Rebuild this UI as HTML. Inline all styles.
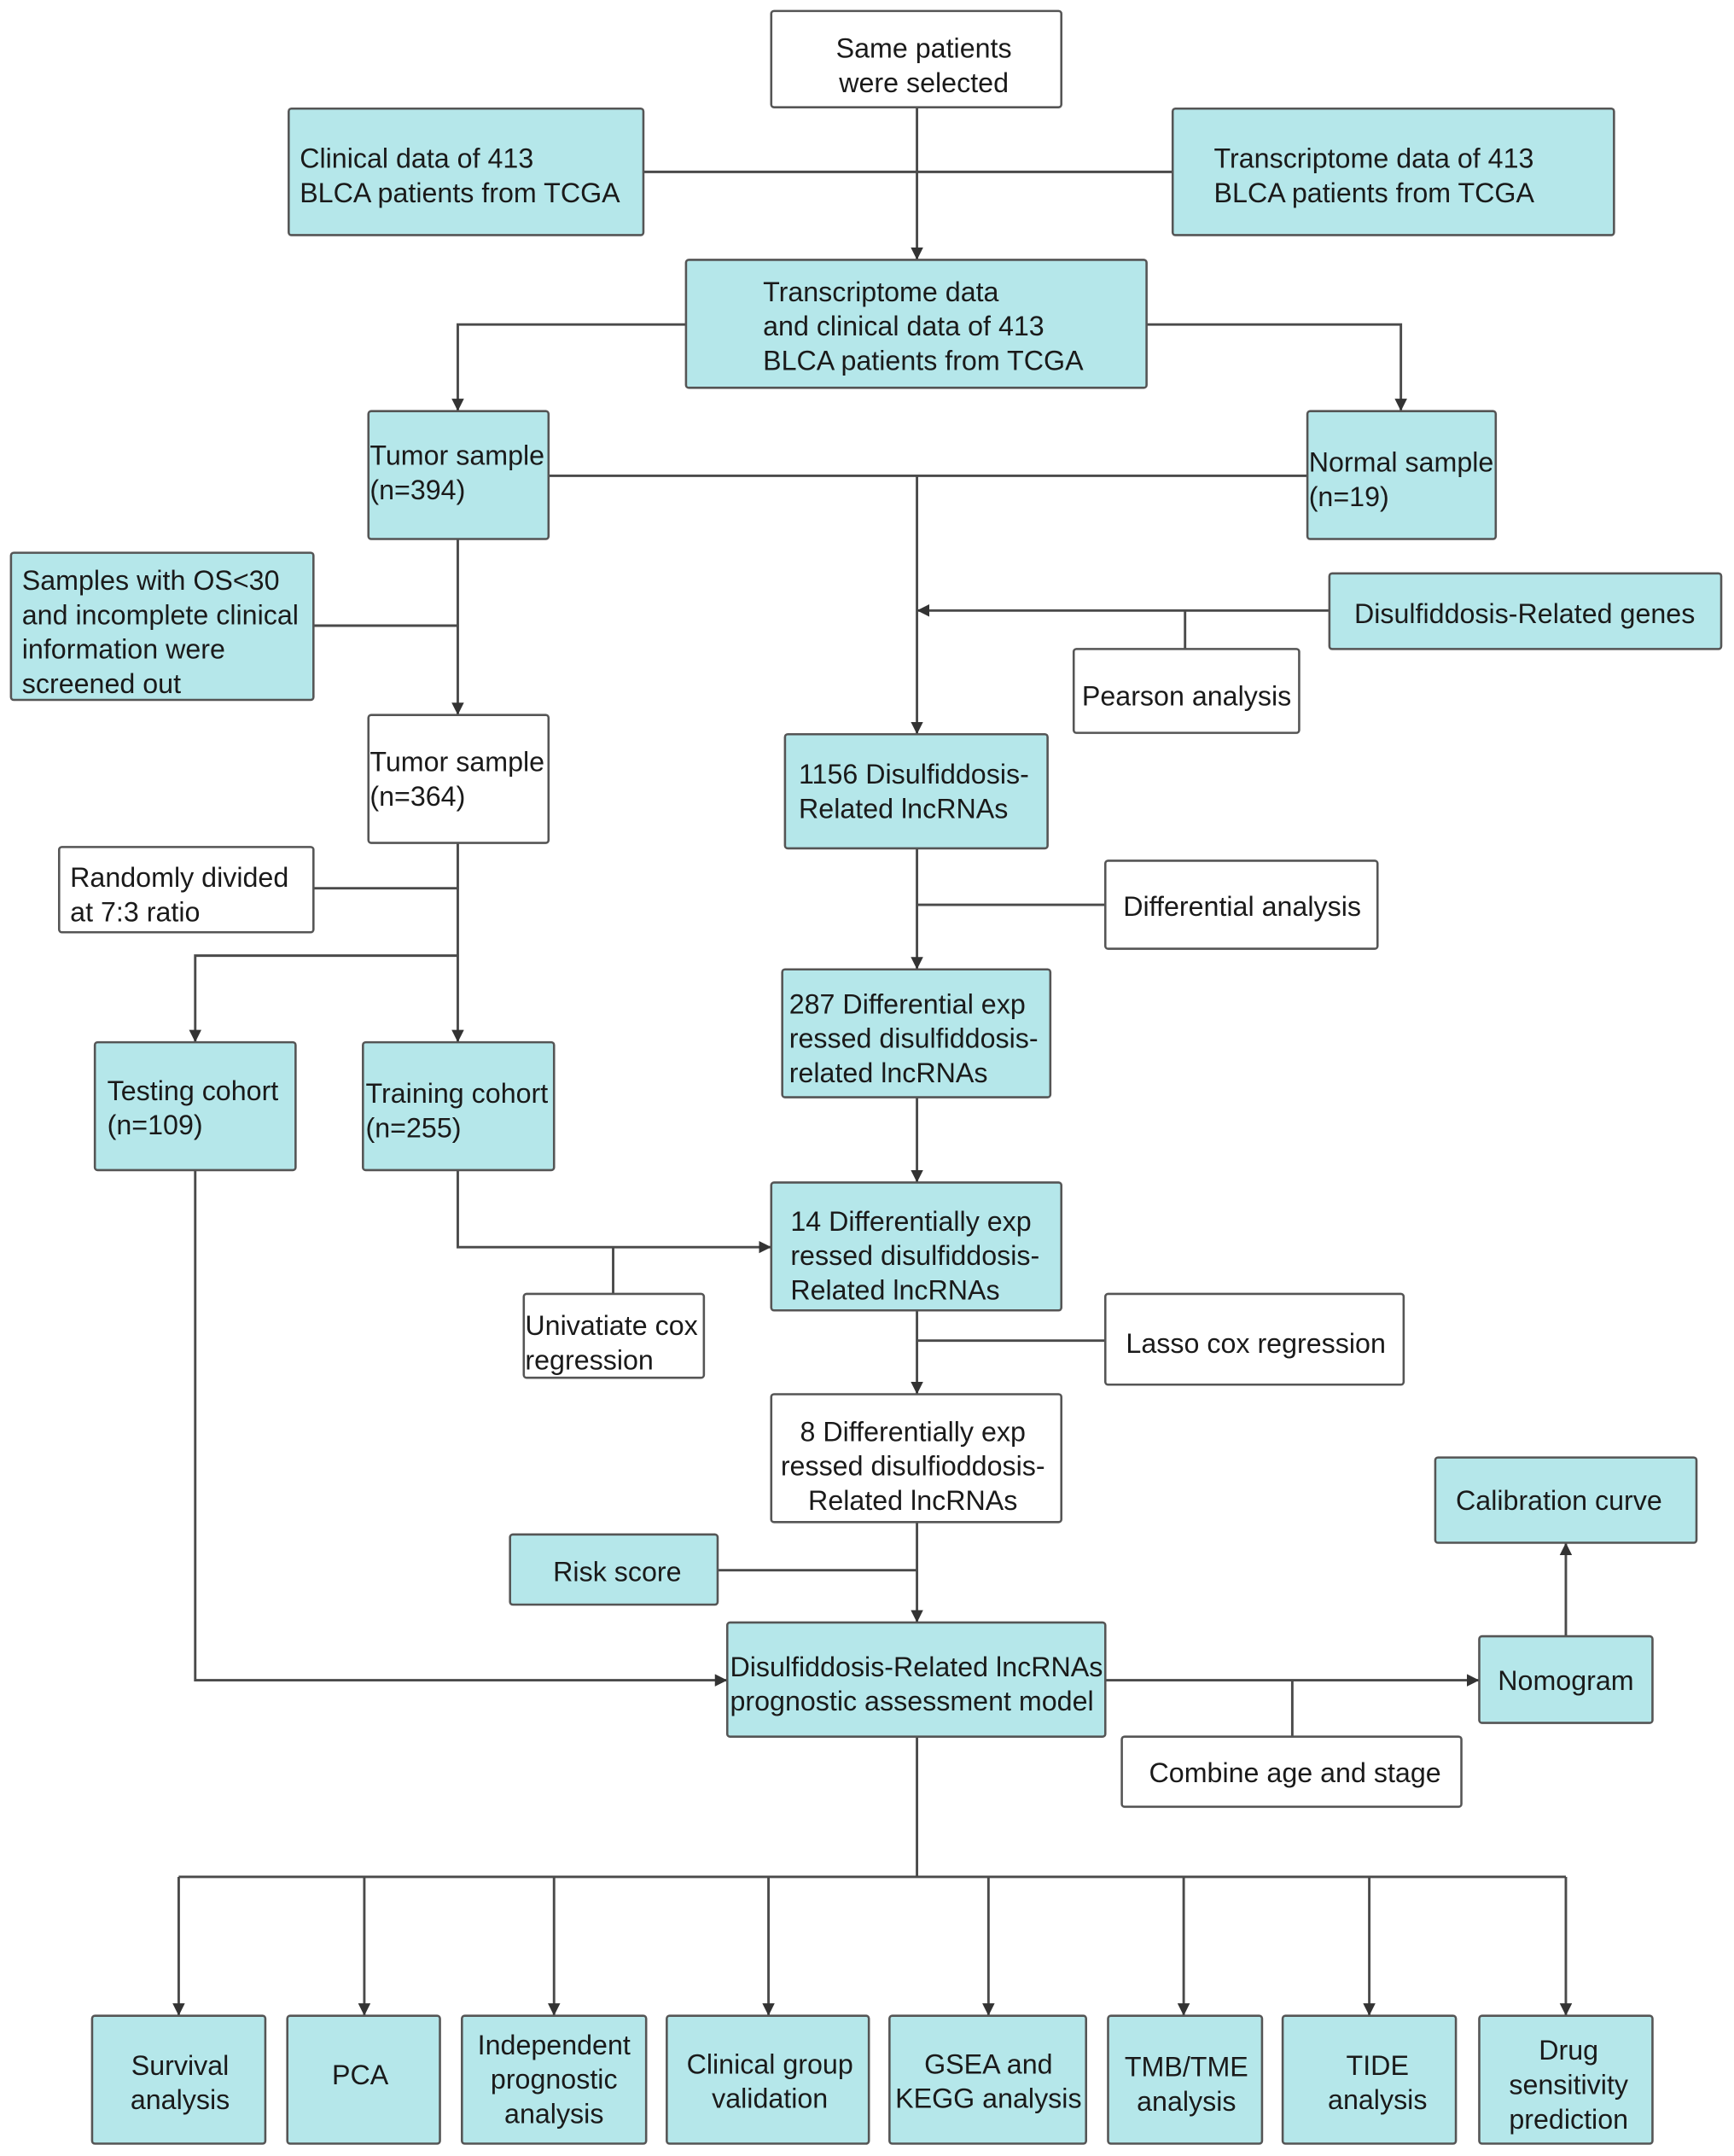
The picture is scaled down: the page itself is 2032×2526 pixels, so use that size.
<!DOCTYPE html>
<html><head><meta charset="utf-8"><style>
html,body{margin:0;padding:0;background:#fff;}
svg{display:block;}
text{font-family:"Liberation Sans",sans-serif;font-size:20px;fill:#1a1a1a;}
.t{fill:#b5e7ea;stroke:#555;stroke-width:1.6;}
.w{fill:#fff;stroke:#555;stroke-width:1.6;}
.l{stroke:#4a4a4a;stroke-width:1.8;fill:none;}
</style></head><body>
<svg width="2032" height="2526" viewBox="0 0 1261.3 1568" preserveAspectRatio="none" xmlns="http://www.w3.org/2000/svg">
<defs><marker id="a" viewBox="0 0 10 10" refX="10" refY="5" markerWidth="5" markerHeight="5" orient="auto"><path d="M0,0L10,5L0,10z" fill="#333"/></marker></defs>
<g class="l">
<path d="M667,78V189" marker-end="url(#a)"/>
<path d="M468,125H853"/>
<path d="M499,236H333V299" marker-end="url(#a)"/>
<path d="M834,236H1019V299" marker-end="url(#a)"/>
<path d="M399,346H951"/>
<path d="M667,346V534" marker-end="url(#a)"/>
<path d="M967,444H667" marker-end="url(#a)"/>
<path d="M862,444V472"/>
<path d="M333,392V520" marker-end="url(#a)"/>
<path d="M228,455H333"/>
<path d="M333,613V758" marker-end="url(#a)"/>
<path d="M228,646H333"/>
<path d="M333,695H142V758" marker-end="url(#a)"/>
<path d="M667,617V705" marker-end="url(#a)"/>
<path d="M667,658H804"/>
<path d="M667,798V860" marker-end="url(#a)"/>
<path d="M333,851V907H561" marker-end="url(#a)"/>
<path d="M446,907V941"/>
<path d="M667,953V1014" marker-end="url(#a)"/>
<path d="M667,975H804"/>
<path d="M667,1107V1180" marker-end="url(#a)"/>
<path d="M522,1142H667"/>
<path d="M142,851V1222H529" marker-end="url(#a)"/>
<path d="M804,1222H1076" marker-end="url(#a)"/>
<path d="M940,1222V1263"/>
<path d="M1139,1190V1122" marker-end="url(#a)"/>
<path d="M667,1263V1365"/>
<path d="M130,1365H1139"/>
<path d="M130,1365V1466" marker-end="url(#a)"/>
<path d="M265,1365V1466" marker-end="url(#a)"/>
<path d="M403,1365V1466" marker-end="url(#a)"/>
<path d="M559,1365V1466" marker-end="url(#a)"/>
<path d="M719,1365V1466" marker-end="url(#a)"/>
<path d="M861,1365V1466" marker-end="url(#a)"/>
<path d="M996,1365V1466" marker-end="url(#a)"/>
<path d="M1139,1365V1466" marker-end="url(#a)"/>
</g>
<g>
<rect class="w" x="561" y="8" width="211" height="70" rx="2"/>
<text x="672" y="42" text-anchor="middle">Same patients</text><text x="672" y="67" text-anchor="middle">were selected</text>
<rect class="t" x="210" y="79" width="258" height="92" rx="2"/>
<text x="218" y="122">Clinical data of 413</text><text x="218" y="147">BLCA patients from TCGA</text>
<rect class="t" x="853" y="79" width="321" height="92" rx="2"/>
<text x="883" y="122">Transcriptome data of 413</text><text x="883" y="147">BLCA patients from TCGA</text>
<rect class="t" x="499" y="189" width="335" height="93" rx="2"/>
<text x="555" y="219">Transcriptome data</text><text x="555" y="244">and clinical data of 413</text><text x="555" y="269">BLCA patients from TCGA</text>
<rect class="t" x="268" y="299" width="131" height="93" rx="2"/>
<text x="269" y="338">Tumor sample</text><text x="269" y="363">(n=394)</text>
<rect class="t" x="951" y="299" width="137" height="93" rx="2"/>
<text x="952" y="343">Normal sample</text><text x="952" y="368">(n=19)</text>
<rect class="t" x="8" y="402" width="220" height="107" rx="2"/>
<text x="16" y="429">Samples with OS&lt;30</text><text x="16" y="454">and incomplete clinical</text><text x="16" y="479">information were</text><text x="16" y="504">screened out</text>
<rect class="t" x="967" y="417" width="285" height="55" rx="2"/>
<text x="1109" y="453" text-anchor="middle">Disulfiddosis-Related genes</text>
<rect class="w" x="781" y="472" width="164" height="61" rx="2"/>
<text x="787" y="513">Pearson analysis</text>
<rect class="w" x="268" y="520" width="131" height="93" rx="2"/>
<text x="269" y="561">Tumor sample</text><text x="269" y="586">(n=364)</text>
<rect class="t" x="571" y="534" width="191" height="83" rx="2"/>
<text x="581" y="570">1156 Disulfiddosis-</text><text x="581" y="595">Related lncRNAs</text>
<rect class="w" x="43" y="616" width="185" height="62" rx="2"/>
<text x="51" y="645">Randomly divided</text><text x="51" y="670">at 7:3 ratio</text>
<rect class="w" x="804" y="626" width="198" height="64" rx="2"/>
<text x="817" y="666">Differential analysis</text>
<rect class="t" x="569" y="705" width="195" height="93" rx="2"/>
<text x="574" y="737">287 Differential exp</text><text x="574" y="762">ressed disulfiddosis-</text><text x="574" y="787">related lncRNAs</text>
<rect class="t" x="69" y="758" width="146" height="93" rx="2"/>
<text x="78" y="800">Testing cohort</text><text x="78" y="825">(n=109)</text>
<rect class="t" x="264" y="758" width="139" height="93" rx="2"/>
<text x="266" y="802">Training cohort</text><text x="266" y="827">(n=255)</text>
<rect class="t" x="561" y="860" width="211" height="93" rx="2"/>
<text x="575" y="895">14 Differentially exp</text><text x="575" y="920">ressed disulfiddosis-</text><text x="575" y="945">Related lncRNAs</text>
<rect class="w" x="381" y="941" width="131" height="61" rx="2"/>
<text x="382" y="971">Univatiate cox</text><text x="382" y="996">regression</text>
<rect class="w" x="804" y="941" width="217" height="66" rx="2"/>
<text x="819" y="984">Lasso cox regression</text>
<rect class="w" x="561" y="1014" width="211" height="93" rx="2"/>
<text x="664" y="1048" text-anchor="middle">8 Differentially exp</text><text x="664" y="1073" text-anchor="middle">ressed disulfioddosis-</text><text x="664" y="1098" text-anchor="middle">Related lncRNAs</text>
<rect class="t" x="1044" y="1060" width="190" height="62" rx="2"/>
<text x="1134" y="1098" text-anchor="middle">Calibration curve</text>
<rect class="t" x="371" y="1116" width="151" height="51" rx="2"/>
<text x="449" y="1150" text-anchor="middle">Risk score</text>
<rect class="t" x="529" y="1180" width="275" height="83" rx="2"/>
<text x="531" y="1219">Disulfiddosis-Related lncRNAs</text><text x="531" y="1244">prognostic assessment model</text>
<rect class="t" x="1076" y="1190" width="126" height="63" rx="2"/>
<text x="1139" y="1229" text-anchor="middle">Nomogram</text>
<rect class="w" x="816" y="1263" width="247" height="51" rx="2"/>
<text x="942" y="1296" text-anchor="middle">Combine age and stage</text>
<rect class="t" x="67" y="1466" width="126" height="93" rx="2"/>
<text x="131" y="1509" text-anchor="middle">Survival</text><text x="131" y="1534" text-anchor="middle">analysis</text>
<rect class="t" x="209" y="1466" width="111" height="93" rx="2"/>
<text x="262" y="1516" text-anchor="middle">PCA</text>
<rect class="t" x="336" y="1466" width="134" height="93" rx="2"/>
<text x="403" y="1494" text-anchor="middle">Independent</text><text x="403" y="1519" text-anchor="middle">prognostic</text><text x="403" y="1544" text-anchor="middle">analysis</text>
<rect class="t" x="485" y="1466" width="147" height="93" rx="2"/>
<text x="560" y="1508" text-anchor="middle">Clinical group</text><text x="560" y="1533" text-anchor="middle">validation</text>
<rect class="t" x="647" y="1466" width="143" height="93" rx="2"/>
<text x="719" y="1508" text-anchor="middle">GSEA and</text><text x="719" y="1533" text-anchor="middle">KEGG analysis</text>
<rect class="t" x="806" y="1466" width="112" height="93" rx="2"/>
<text x="863" y="1510" text-anchor="middle">TMB/TME</text><text x="863" y="1535" text-anchor="middle">analysis</text>
<rect class="t" x="933" y="1466" width="126" height="93" rx="2"/>
<text x="1002" y="1509" text-anchor="middle">TIDE</text><text x="1002" y="1534" text-anchor="middle">analysis</text>
<rect class="t" x="1076" y="1466" width="126" height="93" rx="2"/>
<text x="1141" y="1498" text-anchor="middle">Drug</text><text x="1141" y="1523" text-anchor="middle">sensitivity</text><text x="1141" y="1548" text-anchor="middle">prediction</text>
</g>
</svg>
</body></html>
